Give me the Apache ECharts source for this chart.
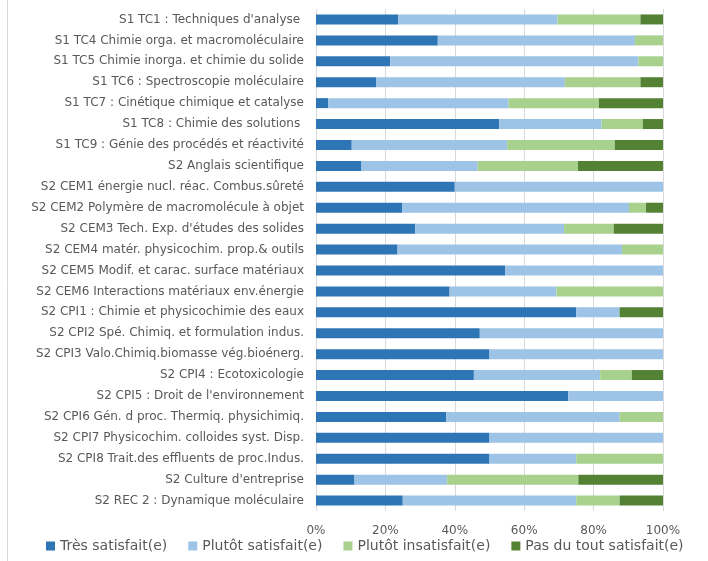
<!DOCTYPE html>
<html><head><meta charset="utf-8">
<script src="https://cdn.jsdelivr.net/npm/echarts@6/dist/echarts.min.js"></script>
<style>html,body{margin:0;padding:0;background:#fff}#c{width:708px;height:561px}</style>
</head><body><div id="c"></div>
<script>
const categories = [
"S1 TC1 : Techniques d'analyse ",
"S1 TC4 Chimie orga. et macromoléculaire",
"S1 TC5 Chimie inorga. et chimie du solide",
"S1 TC6 : Spectroscopie moléculaire",
"S1 TC7 : Cinétique chimique et catalyse",
"S1 TC8 : Chimie des solutions ",
"S1 TC9 : Génie des procédés et réactivité",
"S2 Anglais scientifique",
"S2 CEM1 énergie nucl. réac. Combus.sûreté",
"S2 CEM2 Polymère de macromolécule à objet",
"S2 CEM3 Tech. Exp. d'études des solides",
"S2 CEM4 matér. physicochim. prop.& outils",
"S2 CEM5 Modif. et carac. surface matériaux",
"S2 CEM6 Interactions matériaux env.énergie",
"S2 CPI1 : Chimie et physicochimie des eaux",
"S2 CPI2 Spé. Chimiq. et formulation indus.",
"S2 CPI3 Valo.Chimiq.biomasse vég.bioénerg.",
"S2 CPI4 : Ecotoxicologie",
"S2 CPI5 : Droit de l'environnement",
"S2 CPI6 Gén. d proc. Thermiq. physichimiq.",
"S2 CPI7 Physicochim. colloides syst. Disp.",
"S2 CPI8 Trait.des effluents de proc.Indus.",
"S2 Culture d'entreprise",
"S2 REC 2 : Dynamique moléculaire"
];
const seriesNames = ["Très satisfait(e)","Plutôt satisfait(e)","Plutôt insatisfait(e)","Pas du tout satisfait(e)"];
const tresSatisfait =   [23.7,35.1,21.4,17.4, 3.5,52.8,10.3,13.1,40.0,24.8,28.6,23.5,54.5,38.5,75.0,47.2,50.0,45.5,72.7,37.5,50.0,50.0,11.1,25.0];
const plutotSatisfait = [45.9,56.8,71.5,54.3,52.0,29.5,44.8,33.5,60.0,65.4,42.9,64.7,45.5,30.8,12.5,52.8,50.0,36.4,27.3,50.0,50.0,25.0,26.7,50.0];
const plutotInsatisfait=[23.9, 8.1, 7.1,21.8,26.0,11.9,31.0,28.9, 0.0, 4.9,14.3,11.8, 0.0,30.7, 0.0, 0.0, 0.0, 9.1, 0.0,12.5, 0.0,25.0,37.8,12.5];
const pasDuTout =       [ 6.5, 0.0, 0.0, 6.5,18.5, 5.8,13.9,24.5, 0.0, 4.9,14.2, 0.0, 0.0, 0.0,12.5, 0.0, 0.0, 9.0, 0.0, 0.0, 0.0, 0.0,24.4,12.5];
const colors = ["#2E75B6","#9DC3E6","#A9D18E","#548235"];
const tickLabels = ["0%","20%","40%","60%","80%","100%"];

const allData = [tresSatisfait, plutotSatisfait, plutotInsatisfait, pasDuTout];
const font = "'DejaVu Sans', sans-serif";
const chart = echarts.init(document.getElementById('c'));
chart.setOption({
  animation:false,
  textStyle:{fontFamily:font},
  graphic:[{type:'line',shape:{x1:7.5,y1:0,x2:7.5,y2:561},style:{stroke:'#D9D9D9',lineWidth:1}}],
  grid:{left:316,right:45,top:9,bottom:50,containLabel:false},
  legend:{
    data:seriesNames, left:41, top:534, itemWidth:9, itemHeight:9, itemGap:21, itemTextGap:4,
    icon:'rect', textStyle:{color:'#595959',fontSize:14,fontFamily:font}
  },
  xAxis:{type:'value',min:0,max:100,interval:20,
    axisLine:{show:false},axisTick:{show:false},
    splitLine:{lineStyle:{color:'#D9D9D9'}},
    axisLabel:{color:'#595959',fontSize:12,margin:14,formatter:v=>tickLabels[v/20]}},
  yAxis:{type:'category',data:categories,inverse:true,
    axisLine:{show:false},axisTick:{show:false},
    axisLabel:{color:'#595959',fontSize:12,margin:12}},
  series: allData.map((d,i)=>({name:seriesNames[i],type:'bar',stack:'s',data:d,barWidth:10,
    itemStyle:{color:colors[i]}}))
});
</script></body></html>
